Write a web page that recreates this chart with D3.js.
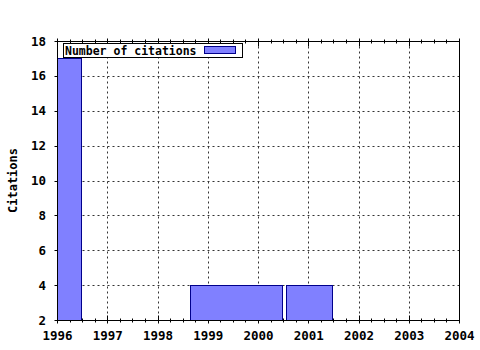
<!DOCTYPE html>
<html>
<head>
<meta charset="utf-8">
<script src="https://cdn.jsdelivr.net/npm/d3@7"></script>
<style>
  html, body { margin: 0; padding: 0; background: #fff; }
  svg text { font-family: "DejaVu Sans Mono", "Liberation Mono", monospace; font-weight: bold; font-size: 12px; fill: #000; }
</style>
</head>
<body>
<div id="chart"></div>
<script>
// bars: start year, end year, number of citations
const barStart = [1996, 1998.65, 2000.56];
const barEnd = [1996.47, 2000.47, 2001.47];
const citations = [17, 4, 4];

const xTicks = [1996, 1997, 1998, 1999, 2000, 2001, 2002, 2003, 2004];
const yTicks = [2, 4, 6, 8, 10, 12, 14, 16, 18];
const seriesName = 'Number of citations';

const W = 480, H = 350;
const m = { left: 57, right: 21, top: 41, bottom: 30 };

const svg = d3.select('#chart').append('svg')
  .attr('width', W).attr('height', H);

const x = d3.scaleLinear().domain([1996, 2004]).range([m.left, W - m.right]);
const y = d3.scaleLinear().domain([2, 18]).range([H - m.bottom, m.top]);
const px = v => Math.round(x(v)) + 0.5;
const py = v => Math.round(y(v)) + 0.5;

const bars = barStart.map((s, i) => ({ s, e: barEnd[i], v: citations[i] }));

// grid
const grid = svg.append('g').attr('stroke', '#333').attr('stroke-dasharray', '2,3');
grid.selectAll('.vx').data(xTicks.slice(1, -1)).enter().append('line')
  .attr('x1', px).attr('x2', px)
  .attr('y1', py(18)).attr('y2', py(2));
grid.selectAll('.hy').data(yTicks.slice(1, -1)).enter().append('line')
  .attr('y1', py).attr('y2', py)
  .attr('x1', px(1996)).attr('x2', px(2004));

// ticks (crossing the frame), drawn before bars so bars cover the inner part
const ticks = svg.append('g').attr('stroke', '#000');
const minor = d3.range(0, 33).map(i => 1996 + i * 0.25).filter((d, i) => i % 4 !== 0);
ticks.selectAll('.xb').data(xTicks).enter().append('line')
  .attr('x1', px).attr('x2', px).attr('y1', py(2) - 5).attr('y2', py(2) + 3);
ticks.selectAll('.xt').data(xTicks).enter().append('line')
  .attr('x1', px).attr('x2', px).attr('y1', py(18) - 3).attr('y2', py(18) + 5);
ticks.selectAll('.mb').data(minor).enter().append('line')
  .attr('x1', px).attr('x2', px).attr('y1', py(2) - 2).attr('y2', py(2) + 2);
ticks.selectAll('.mt').data(minor).enter().append('line')
  .attr('x1', px).attr('x2', px).attr('y1', py(18) - 2).attr('y2', py(18) + 2);
ticks.selectAll('.yl').data(yTicks).enter().append('line')
  .attr('y1', py).attr('y2', py).attr('x1', px(1996) - 3).attr('x2', px(1996) + 5);

// bars
svg.append('g').selectAll('rect').data(bars).enter().append('rect')
  .attr('x', d => px(d.s))
  .attr('y', d => py(d.v))
  .attr('width', d => Math.round(x(d.e)) - Math.round(x(d.s)))
  .attr('height', d => Math.round(y(2)) - Math.round(y(d.v)))
  .attr('fill', '#8080ff')
  .attr('stroke', '#00008b')
  .attr('stroke-width', 1);

// tick labels via d3 axes
const xAxis = d3.axisBottom(x).tickValues(xTicks).tickFormat(d3.format('d')).tickSize(0).tickPadding(16);
const gx = svg.append('g').attr('transform', `translate(0,${H - m.bottom})`).call(xAxis);
const yAxis = d3.axisLeft(y).tickValues(yTicks).tickSize(0).tickPadding(11);
const gy = svg.append('g').attr('transform', `translate(${m.left},0)`).call(yAxis);
[gx, gy].forEach(g => {
  g.select('.domain').remove();
  g.selectAll('text').style('font-size', '12.5px');
});
gx.selectAll('text').attr('dy', '0.35em');

// frame
svg.append('rect')
  .attr('x', px(1996)).attr('y', py(18))
  .attr('width', Math.round(x(2004)) - Math.round(x(1996)))
  .attr('height', Math.round(y(2)) - Math.round(y(18)))
  .attr('fill', 'none').attr('stroke', '#000');

// y label
svg.append('text')
  .attr('transform', `translate(17,${(y(2) + y(18)) / 2}) rotate(-90)`)
  .attr('text-anchor', 'middle')
  .text('Citations');

// legend
const lg = svg.append('g');
lg.append('rect').attr('x', 63.5).attr('y', 43.5).attr('width', 179).attr('height', 14)
  .attr('fill', '#fff').attr('stroke', '#000');
lg.append('text').attr('x', 65).attr('y', 54.5).style('font-size', '11.5px').text(seriesName);
lg.append('rect').attr('x', 204.5).attr('y', 46.5).attr('width', 31).attr('height', 7)
  .attr('fill', '#8080ff').attr('stroke', '#00008b');
</script>
</body>
</html>
